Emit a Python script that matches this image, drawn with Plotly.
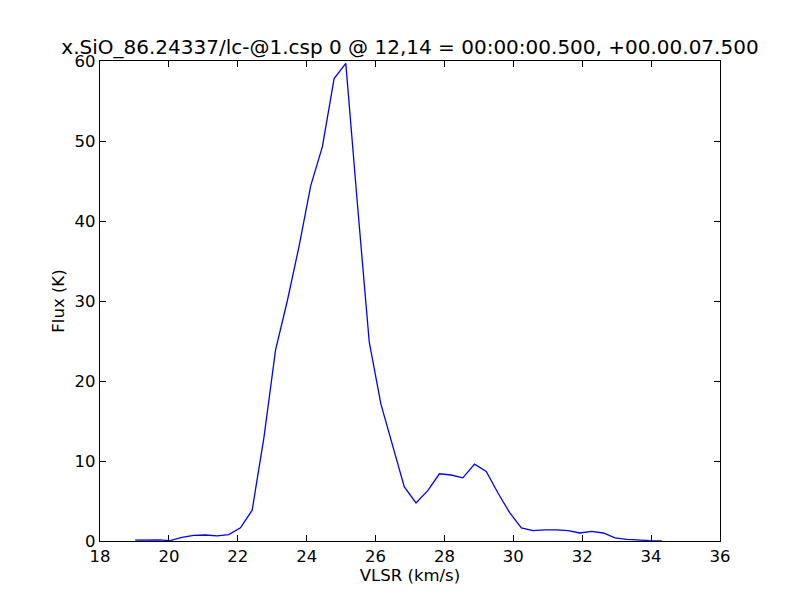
import plotly.graph_objects as go

x_start = 19.02
x_step = 0.3398
flux = [0.1, 0.1, 0.15, 0.05, 0.45, 0.7, 0.75, 0.65, 0.8, 1.65,
        3.85, 12.9, 23.9, 30.0, 36.8, 44.4, 49.3, 57.8, 59.7, 42.0,
        24.9, 17.1, 12.0, 6.75, 4.75, 6.3, 8.4, 8.25, 7.9, 9.6,
        8.7, 6.0, 3.55, 1.65, 1.3, 1.4, 1.4, 1.3, 1.0, 1.2,
        1.0, 0.4, 0.2, 0.1, 0.05, 0.02]
vlsr = [x_start + x_step * i for i in range(len(flux))]

title = "x.SiO_86.24337/lc-@1.csp 0 @ 12,14 = 00:00:00.500, +00.00.07.500"

fig = go.Figure()
fig.add_trace(go.Scatter(x=vlsr, y=flux, mode="lines",
                         line=dict(color="#0000ff", width=1.3), showlegend=False))

axis_common = dict(showline=True, linecolor="black", linewidth=1.2, mirror="allticks",
                   ticks="inside", ticklen=6, tickcolor="black", tickwidth=1,
                   showgrid=False, zeroline=False, automargin=False,
                   tickfont=dict(family="DejaVu Sans", size=16.5, color="black"))

fig.update_layout(
    width=800, height=600,
    margin=dict(l=92, r=88, t=53, b=67, autoexpand=False),
    paper_bgcolor="white", plot_bgcolor="white",
    title=dict(text=title, x=(410 - 8) / 800, xanchor="center", y=1 - 39/600, yanchor="middle",
               font=dict(family="DejaVu Sans", size=20, color="black")),
    xaxis=dict(range=[18, 36], tickvals=[18, 20, 22, 24, 26, 28, 30, 32, 34, 36],
               title=dict(text="VLSR (km/s)", standoff=2,
                          font=dict(family="DejaVu Sans", size=16.5, color="black")),
               **axis_common),
    yaxis=dict(range=[0, 60], tickvals=[0, 10, 20, 30, 40, 50, 60],
               title=dict(text="Flux (K)", standoff=5,
                          font=dict(family="DejaVu Sans", size=16.5, color="black")),
               **axis_common),
)

fig.write_html("out.html")
